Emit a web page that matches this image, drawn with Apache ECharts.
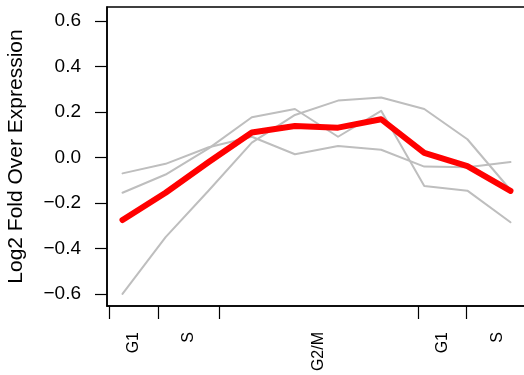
<!DOCTYPE html>
<html>
<head>
<meta charset="utf-8">
<script src="https://cdn.jsdelivr.net/npm/echarts@6/dist/echarts.min.js"></script>
<style>html,body{margin:0;padding:0;background:#fff;}#c{width:524px;height:375px;}</style>
</head>
<body>
<div id="c"></div>
<script>
// time points (sample index)
var timePoints = [1, 2, 3, 4, 5, 6, 7, 8, 9, 10];
// individual gene profiles (grey)
var geneA = [-0.070, -0.028, 0.045, 0.091, 0.014, 0.050, 0.034, -0.040, -0.043, -0.020];
var geneB = [-0.155, -0.075, 0.040, 0.177, 0.213, 0.091, 0.205, -0.125, -0.146, -0.285];
var geneC = [-0.600, -0.350, -0.145, 0.065, 0.187, 0.250, 0.264, 0.213, 0.080, -0.143];
// mean profile (red)
var meanProfile = [-0.275, -0.155, -0.020, 0.110, 0.138, 0.131, 0.168, 0.020, -0.038, -0.147];
// cell-cycle phase boundaries (in time-point units) and names
var phaseBounds = [0.70, 1.82, 3.25, 7.86, 8.97, 10.43];
var phaseNames = ['G1', 'S', 'G2/M', 'G1', 'S'];
// y tick values
var yTicks = [-0.6, -0.4, -0.2, 0.0, 0.2, 0.4, 0.6];

var phaseMids = [];
for (var i = 0; i < phaseNames.length; i++) {
  phaseMids.push((phaseBounds[i] + phaseBounds[i + 1]) / 2);
}
function pairs(ys) { return timePoints.map(function (t, i) { return [t, ys[i]]; }); }
function phaseLabel(v) {
  for (var i = 0; i < phaseMids.length; i++) { if (Math.abs(phaseMids[i] - v) < 1e-6) return phaseNames[i]; }
  return '';
}
var FONT = 'Liberation Sans, Arial, Helvetica, sans-serif';
var chart = echarts.init(document.getElementById('c'), null, {renderer: 'canvas'});
var grey = {type: 'line', symbol: 'none', silent: true, z: 2,
  lineStyle: {color: '#BEBEBE', width: 2, cap: 'round', join: 'round'}};
chart.setOption({
  animation: false,
  backgroundColor: '#fff',
  grid: {left: 107, top: 7, width: 430, bottom: 69, containLabel: false, outerBoundsMode: 'none',
    show: true, borderColor: '#000', borderWidth: 1.5, backgroundColor: 'transparent'},
  xAxis: {
    type: 'value', min: 0.6405, max: 10.615,
    splitLine: {show: false},
    axisLine: {show: true, onZero: false, lineStyle: {color: '#000', width: 1.5}},
    axisTick: {show: true, customValues: phaseBounds, length: 13, lineStyle: {color: '#000', width: 1.2}},
    axisLabel: {show: true, customValues: phaseMids, rotate: 90, margin: 26, fontSize: 16, color: '#000', fontFamily: FONT,
      formatter: function (v) { return phaseLabel(v); }}
  },
  yAxis: {
    type: 'value', min: -0.653, max: 0.6615,
    name: 'Log2 Fold Over Expression', nameLocation: 'middle', nameGap: 80,
    nameTextStyle: {fontSize: 21, color: '#000', fontFamily: FONT},
    splitLine: {show: false},
    axisLine: {show: true, onZero: false, lineStyle: {color: '#000', width: 1.5}},
    axisTick: {show: true, customValues: yTicks, length: 12, lineStyle: {color: '#000', width: 1.2}},
    axisLabel: {show: true, customValues: yTicks, margin: 26, fontSize: 19, color: '#000', fontFamily: FONT,
      formatter: function (v) { return (v < -1e-9 ? '\u2212' : '') + Math.abs(v).toFixed(1); }}
  },
  series: [
    Object.assign({}, grey, {data: pairs(geneA)}),
    Object.assign({}, grey, {data: pairs(geneB)}),
    Object.assign({}, grey, {data: pairs(geneC)}),
    {type: 'line', symbol: 'none', silent: true, z: 3, data: pairs(meanProfile),
      lineStyle: {color: '#FF0000', width: 6, cap: 'round', join: 'round'}}
  ]
});
</script>
</body>
</html>
